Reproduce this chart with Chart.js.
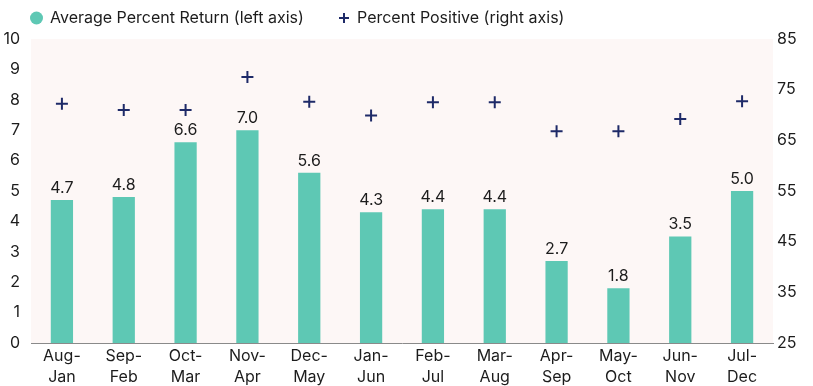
<!DOCTYPE html>
<html>
<head>
<meta charset="utf-8">
<script src="https://cdn.jsdelivr.net/npm/chart.js@4"></script>
<style>
  html, body { margin: 0; padding: 0; background: #ffffff; }
  #wrap { width: 813px; height: 386px; }
</style>
</head>
<body>
<div id="wrap"><canvas id="myChart" width="813" height="386"></canvas></div>
<script>
const periods = [['Aug-', 'Jan'], ['Sep-', 'Feb'], ['Oct-', 'Mar'], ['Nov-', 'Apr'], ['Dec-', 'May'], ['Jan-', 'Jun'],
                 ['Feb-', 'Jul'], ['Mar-', 'Aug'], ['Apr-', 'Sep'], ['May-', 'Oct'], ['Jun-', 'Nov'], ['Jul-', 'Dec']];
const avg_return = [4.7, 4.8, 6.6, 7.0, 5.6, 4.3, 4.4, 4.4, 2.7, 1.8, 3.5, 5.0];
const pct_positive = [72.2, 71.0, 71.0, 77.5, 72.6, 69.9, 72.5, 72.5, 66.8, 66.8, 69.2, 72.7];
const series_names = ['Average Percent Return (left axis)', 'Percent Positive (right axis)'];

const teal = '#5ec8b4';
const navy = '#1e2a68';
const text_color = '#1c1c1c';
const font_name = 'Inter, Lato, sans-serif';

// pale background behind the plot area
const plotBg = {
    id: 'plotBg',
    beforeDraw(chart) {
        const a = chart.chartArea;
        const ctx = chart.ctx;
        ctx.save();
        ctx.fillStyle = '#fdf7f6';
        ctx.fillRect(a.left, a.top, a.right - a.left, a.bottom - a.top);
        ctx.restore();
    }
};

// value labels over the bars
const barLabels = {
    id: 'barLabels',
    afterDatasetsDraw(chart) {
        const ctx = chart.ctx;
        const meta = chart.getDatasetMeta(0);
        ctx.save();
        ctx.fillStyle = text_color;
        ctx.font = '16px ' + font_name;
        ctx.textAlign = 'center';
        ctx.textBaseline = 'bottom';
        meta.data.forEach(function(bar, i) {
            ctx.fillText(avg_return[i].toFixed(1), bar.x, bar.y - 4);
        });
        ctx.restore();
    }
};

// legend row above the plot (circle for bars, plus for the markers)
const topLegend = {
    id: 'topLegend',
    afterDraw(chart) {
        const ctx = chart.ctx;
        const y = 18;
        ctx.save();
        ctx.fillStyle = teal;
        ctx.beginPath();
        ctx.arc(36.5, y, 6.5, 0, Math.PI * 2);
        ctx.fill();

        ctx.strokeStyle = navy;
        ctx.lineWidth = 2;
        ctx.beginPath();
        ctx.moveTo(339, y); ctx.lineTo(349, y);
        ctx.moveTo(344, y - 5); ctx.lineTo(344, y + 5);
        ctx.stroke();

        ctx.fillStyle = text_color;
        ctx.font = '16px ' + font_name;
        ctx.textAlign = 'left';
        ctx.textBaseline = 'middle';
        ctx.fillText(series_names[0], 50, y);
        ctx.fillText(series_names[1], 357, y);
        ctx.restore();
    }
};

const data = {
    labels: periods,
    datasets: [{
        type: 'bar',
        label: series_names[0],
        data: avg_return,
        backgroundColor: teal,
        barPercentage: 0.36,
        categoryPercentage: 1,
        yAxisID: 'y',
        order: 2
    }, {
        type: 'line',
        label: series_names[1],
        data: pct_positive,
        showLine: false,
        pointStyle: 'cross',
        pointRadius: 6,
        pointBorderWidth: 2,
        pointBorderColor: navy,
        pointBackgroundColor: navy,
        yAxisID: 'y1',
        order: 1
    }]
};

const config = {
    type: 'bar',
    data: data,
    options: {
        responsive: false,
        animation: false,
        layout: { padding: { left: 0, right: 0, top: 39, bottom: 0 } },
        plugins: {
            tooltip: { enabled: false },
            legend: { display: false }
        },
        scales: {
            x: {
                grid: { display: false, drawTicks: false },
                border: { display: true, color: '#8a8a8a', width: 1 },
                ticks: {
                    color: text_color,
                    font: { family: font_name, size: 16, lineHeight: 1.35 },
                    maxRotation: 0,
                    autoSkip: false,
                    padding: 2
                },
                afterFit: function(scale) { scale.height = 43; }
            },
            y: {
                position: 'left',
                min: 0,
                max: 10,
                grid: { display: false, drawTicks: false },
                border: { display: false },
                ticks: {
                    stepSize: 1,
                    color: text_color,
                    font: { family: font_name, size: 16 },
                    padding: 11
                },
                afterFit: function(scale) { scale.width = 31; }
            },
            y1: {
                position: 'right',
                min: 25,
                max: 85,
                grid: { display: false, drawTicks: false },
                border: { display: false },
                ticks: {
                    stepSize: 10,
                    color: text_color,
                    font: { family: font_name, size: 16 },
                    padding: 4
                },
                afterFit: function(scale) { scale.width = 40; }
            }
        }
    },
    plugins: [plotBg, barLabels, topLegend]
};

const my_canva = document.getElementById('myChart');
const return_chart = new Chart(my_canva, config);
</script>
</body>
</html>
